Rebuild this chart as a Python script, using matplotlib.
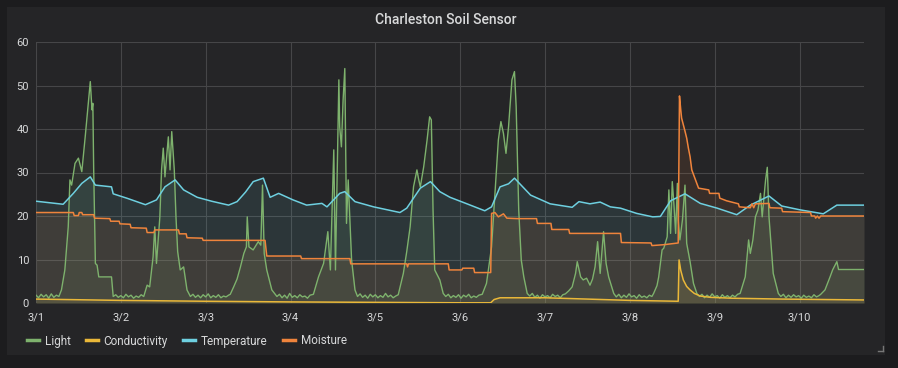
import matplotlib
matplotlib.use("Agg")
import matplotlib.pyplot as plt
from matplotlib.lines import Line2D
from matplotlib.patches import Rectangle

plt.rcParams["font.family"] = ["Roboto", "DejaVu Sans"]

# x values are days since 3/1
day_labels = ["3/1", "3/2", "3/3", "3/4", "3/5", "3/6", "3/7", "3/8", "3/9", "3/10"]
series_names = ["Light", "Conductivity", "Temperature", "Moisture"]

light_days = [
    0.00, 0.03, 0.06, 0.09, 0.12, 0.15, 0.18, 0.21, 0.24, 0.27, 0.30,
    0.34, 0.38, 0.40, 0.42, 0.46, 0.50, 0.54, 0.58, 0.62, 0.64, 0.66, 0.67, 0.68, 0.70, 0.72, 0.74, 0.89, 0.91,
    0.94, 0.97, 1.00, 1.03, 1.06, 1.09, 1.12, 1.15, 1.18, 1.21, 1.24, 1.27,
    1.31, 1.34, 1.38, 1.40, 1.42, 1.46, 1.48, 1.50, 1.52, 1.56, 1.58, 1.60, 1.63, 1.65, 1.67, 1.70, 1.74, 1.78, 1.82,
    1.85, 1.88, 1.91, 1.94, 1.97, 2.00, 2.03, 2.06, 2.09, 2.12, 2.15, 2.18, 2.21, 2.24, 2.27, 2.29,
    2.33, 2.37, 2.41, 2.45, 2.48, 2.49, 2.51, 2.56, 2.62, 2.65, 2.67, 2.69, 2.72, 2.78, 2.84,
    2.87, 2.90, 2.93, 2.96, 2.99, 3.02, 3.05, 3.08, 3.11, 3.14, 3.17, 3.20, 3.23, 3.27,
    3.33, 3.39, 3.44, 3.47, 3.51, 3.53, 3.57, 3.58, 3.60, 3.62, 3.64, 3.66, 3.68, 3.72, 3.76, 3.79,
    3.82, 3.85, 3.88, 3.91, 3.94, 3.97, 4.00, 4.03, 4.06, 4.09, 4.12, 4.15, 4.18, 4.21, 4.24, 4.27,
    4.33, 4.37, 4.41, 4.45, 4.49, 4.51, 4.53, 4.57, 4.61, 4.64, 4.66, 4.68, 4.70, 4.76, 4.80,
    4.83, 4.86, 4.89, 4.92, 4.95, 4.98, 5.01, 5.04, 5.07, 5.10, 5.13, 5.16, 5.19, 5.22, 5.26,
    5.31, 5.37, 5.41, 5.45, 5.48, 5.51, 5.54, 5.57, 5.61, 5.64, 5.66, 5.69, 5.72, 5.75, 5.79,
    5.82, 5.85, 5.88, 5.91, 5.94, 5.97, 6.00, 6.03, 6.06, 6.09, 6.12, 6.15, 6.18, 6.21, 6.24,
    6.28, 6.32, 6.36, 6.38, 6.42, 6.45, 6.49, 6.53, 6.56, 6.59, 6.62, 6.65, 6.69, 6.72, 6.75, 6.81,
    6.84, 6.87, 6.90, 6.93, 6.96, 6.99, 7.02, 7.05, 7.08, 7.11, 7.14, 7.17, 7.20, 7.23, 7.26, 7.28,
    7.32, 7.34, 7.38, 7.40, 7.44, 7.46, 7.48, 7.50, 7.52, 7.54, 7.56, 7.57, 7.59, 7.62, 7.65, 7.67, 7.71, 7.75, 7.79,
    7.82, 7.85, 7.88, 7.91, 7.94, 7.97, 8.00, 8.03, 8.06, 8.09, 8.12, 8.15, 8.18, 8.21, 8.24, 8.27, 8.30,
    8.36, 8.40, 8.42, 8.45, 8.48, 8.51, 8.54, 8.56, 8.60, 8.62, 8.64, 8.66, 8.69, 8.75,
    8.78, 8.81, 8.84, 8.87, 8.90, 8.93, 8.96, 8.99, 9.02, 9.05, 9.08, 9.11, 9.14, 9.17, 9.20, 9.23, 9.25,
    9.30, 9.36, 9.39, 9.44, 9.46, 9.76,
]
light_vals = [
    1.8, 1.2, 2.0, 1.4, 1.9, 1.1, 2.1, 1.3, 1.8, 1.5, 3.0,
    7.6, 17.5, 28.3, 27.1, 32.1, 33.3, 30.2, 38.2, 46.7, 50.9, 44.4, 45.9, 30.6, 9.1, 8.7, 6.0, 6.0, 1.5,
    1.9, 1.3, 1.7, 1.2, 2.0, 1.4, 1.8, 1.1, 1.6, 1.3, 1.9, 1.5,
    4.1, 3.7, 10.6, 17.5, 9.1, 19.8, 30.6, 35.6, 29.0, 38.2, 30.6, 39.4, 30.6, 19.8, 11.8, 7.6, 8.3, 3.0, 1.5,
    2.0, 1.3, 1.8, 1.2, 1.9, 1.4, 2.1, 1.2, 1.7, 1.3, 1.9, 1.2, 1.6, 1.4, 1.8, 2.0,
    3.7, 5.5, 8.3, 11.4, 12.9, 19.8, 12.9, 12.2, 14.1, 13.3, 27.1, 11.4, 7.6, 3.0, 1.5,
    2.0, 1.2, 1.8, 1.1, 2.2, 1.3, 1.7, 1.2, 1.9, 1.4, 1.6, 1.1, 1.8, 2.0,
    6.0, 9.1, 16.4, 7.6, 35.2, 7.6, 51.3, 40.5, 35.9, 46.7, 53.9, 18.3, 28.3, 9.9, 3.0, 1.5,
    2.1, 1.3, 1.8, 1.1, 2.0, 1.4, 1.9, 1.2, 1.7, 1.3, 2.2, 1.4, 1.8, 1.2, 1.6, 1.9,
    6.8, 11.8, 17.5, 26.7, 30.6, 28.5, 26.7, 31.3, 37.5, 42.8, 42.1, 21.4, 7.6, 5.3, 2.2,
    1.5, 2.0, 1.2, 1.7, 1.3, 1.9, 1.1, 1.8, 1.4, 2.0, 1.2, 1.6, 1.3, 1.8, 2.0,
    4.5, 12.9, 25.2, 37.5, 41.7, 39.0, 34.4, 40.5, 51.3, 53.2, 45.1, 21.4, 9.9, 6.0, 2.2,
    1.6, 2.2, 1.3, 1.8, 1.1, 1.9, 1.4, 1.7, 1.2, 2.0, 1.5, 1.8, 1.2, 1.9, 2.1,
    2.8, 3.7, 6.8, 9.5, 6.0, 5.3, 5.7, 4.1, 5.5, 8.3, 14.1, 6.8, 16.4, 9.1, 6.0, 2.2,
    1.4, 2.0, 1.2, 1.8, 1.3, 2.1, 1.4, 1.7, 1.1, 1.9, 1.3, 1.6, 1.2, 1.8, 1.5, 2.2,
    4.0, 6.0, 12.2, 12.6, 15.2, 26.0, 16.0, 27.9, 22.5, 16.0, 27.5, 19.1, 14.5, 19.1, 27.1, 13.7, 9.5, 4.5, 2.2,
    1.5, 2.0, 1.2, 1.8, 1.3, 2.1, 1.4, 1.7, 1.1, 1.9, 1.3, 1.7, 1.2, 1.8, 1.4, 2.0, 2.2,
    6.0, 14.5, 11.4, 14.5, 19.8, 21.4, 25.2, 19.8, 28.3, 31.2, 19.8, 14.5, 6.8, 2.2,
    1.5, 2.0, 1.2, 1.8, 1.3, 1.9, 1.4, 1.7, 1.1, 1.8, 1.3, 1.6, 1.2, 1.9, 1.4, 1.7, 2.0,
    3.0, 6.0, 7.6, 9.5, 7.7, 7.7,
]

cond_days = [0.0, 1.0, 2.0, 3.0, 4.0, 5.0, 5.36, 5.40, 5.47, 6.0, 6.5, 7.0, 7.57,
             7.58, 7.60, 7.63, 7.67, 7.71, 7.76, 7.83, 7.95, 8.2, 8.8, 9.76]
cond_vals = [0.9, 0.6, 0.4, 0.25, 0.15, 0.05, 0.05, 0.8, 1.2, 1.2, 0.9, 0.6, 0.4,
             9.9, 7.5, 5.3, 3.8, 3.0, 2.2, 1.6, 1.3, 1.1, 0.9, 0.7]

temp_days = [0.00, 0.32, 0.44, 0.54, 0.64, 0.70, 0.89, 0.91, 1.07, 1.29, 1.42, 1.52, 1.64, 1.74,
             1.90, 2.07, 2.27, 2.37, 2.47, 2.56, 2.68, 2.76, 2.86, 3.03, 3.19, 3.37, 3.43, 3.58,
             3.64, 3.76, 3.98, 4.29, 4.37, 4.53, 4.65, 4.76, 4.88, 5.08, 5.29, 5.37, 5.47, 5.57,
             5.64, 5.83, 6.06, 6.32, 6.40, 6.53, 6.65, 6.77, 6.89, 7.08, 7.27, 7.36, 7.48, 7.65,
             7.83, 8.03, 8.26, 8.42, 8.64, 8.79, 9.01, 9.28, 9.44, 9.76]
temp_vals = [23.4, 22.7, 25.2, 27.5, 29.0, 27.1, 26.7, 25.1, 24.1, 22.6, 23.7, 26.7, 28.3, 26.0,
             24.3, 23.4, 22.5, 23.3, 25.5, 27.9, 28.7, 24.3, 25.2, 23.7, 22.5, 22.9, 22.1, 25.2,
             25.6, 23.3, 22.1, 20.8, 21.8, 26.4, 27.9, 25.6, 24.3, 22.8, 21.2, 22.1, 26.7, 27.4,
             28.7, 24.8, 22.8, 22.0, 23.3, 22.8, 23.2, 22.1, 21.8, 20.6, 19.8, 19.9, 23.5, 25.1,
             22.9, 21.8, 20.3, 22.5, 24.6, 22.3, 21.4, 20.5, 22.5, 22.5]

moist_days = [0.00, 0.44, 0.45, 0.50, 0.51, 0.54, 0.55, 0.68, 0.69, 0.87, 0.88, 0.98, 0.99, 1.11,
              1.12, 1.30, 1.31, 1.39, 1.40, 1.68, 1.69, 1.77, 1.78, 1.96, 1.97, 2.70, 2.72, 3.12,
              3.13, 3.70, 3.71, 4.37, 4.38, 4.39, 4.86, 4.87, 5.02, 5.03, 5.16, 5.17, 5.36, 5.37,
              5.41, 5.45, 5.51, 5.55, 5.67, 5.90, 5.91, 6.07, 6.08, 6.28, 6.29, 6.89, 6.90, 7.25,
              7.26, 7.40, 7.57, 7.585, 7.60, 7.61, 7.65, 7.67, 7.69, 7.71, 7.73, 7.81, 7.93, 7.94,
              8.05, 8.06, 8.14, 8.28, 8.29, 8.42, 8.44, 8.46, 8.48, 8.50, 8.64, 8.65, 8.79, 8.80,
              9.13, 9.14, 9.18, 9.19, 9.21, 9.23, 9.25, 9.76]
moist_vals = [20.8, 20.8, 20.1, 20.1, 20.8, 20.8, 20.3, 20.3, 19.5, 19.4, 18.8, 18.8, 18.2, 18.1,
              17.3, 17.2, 16.2, 16.2, 16.8, 16.8, 15.9, 15.9, 15.0, 14.9, 14.4, 14.4, 10.8, 10.8,
              10.2, 10.2, 9.0, 9.0, 8.3, 9.0, 9.0, 7.6, 7.6, 8.0, 8.0, 7.0, 7.0, 20.6,
              20.8, 19.8, 20.5, 19.5, 19.4, 19.4, 18.3, 18.3, 16.9, 16.9, 16.0, 16.0, 13.9, 13.8,
              13.2, 13.4, 13.8, 47.6, 44.4, 42.5, 39.5, 37.9, 35.6, 33.6, 30.6, 26.4, 26.0, 25.2,
              25.2, 24.1, 23.5, 22.8, 22.1, 21.9, 22.8, 21.9, 22.8, 22.8, 22.9, 21.9, 21.8, 21.0,
              20.8, 20.0, 20.0, 19.5, 20.0, 19.5, 20.0, 20.0]

colors = ["#7eb26d", "#eab839", "#6ed0e0", "#ef843c"]
outer_bg = "#1c1c1e"
panel_bg = "#252527"
text_col = "#d8d9da"
grid_col = "#464648"

fig = plt.figure(figsize=(8.98, 3.68), dpi=100, facecolor=outer_bg)
fig.add_artist(Rectangle((7 / 898, 1 - 355 / 368), 878 / 898, 348 / 368,
                         transform=fig.transFigure, facecolor=panel_bg,
                         edgecolor="none", zorder=0))

ax = fig.add_axes([36 / 898, 65 / 368, 828 / 898, 261 / 368])
ax.set_facecolor("none")

all_series = [
    (light_days, light_vals, 1.0),
    (cond_days, cond_vals, 1.1),
    (temp_days, temp_vals, 1.1),
    (moist_days, moist_vals, 1.1),
]
for (xs, ys, lw), c in zip(all_series, colors):
    ax.fill_between(xs, 0, ys, color=c, alpha=0.1, linewidth=0)
    ax.plot(xs, ys, color=c, linewidth=lw)

ax.set_xlim(0, 9.76)
ax.set_ylim(0, 60)
ax.set_xticks(range(len(day_labels)))
ax.set_xticklabels(day_labels)
ax.set_yticks(range(0, 61, 10))
ax.grid(True, color=grid_col, linewidth=0.8)
ax.set_axisbelow(True)
for s in ax.spines.values():
    s.set_visible(False)
ax.tick_params(length=0, colors=text_col, labelsize=8)
ax.tick_params(axis="y", pad=5)
ax.tick_params(axis="x", pad=7)

fig.text(446 / 898, 1 - 20 / 368, "Charleston Soil Sensor", ha="center", va="center",
         color=text_col, fontsize=10, fontweight="medium")

handles = [Line2D([], [], color=c, linewidth=2.5) for c in colors]
fig.legend(handles, series_names, loc="center left", bbox_to_anchor=(27 / 898, 1 - 341 / 368),
           ncol=4, frameon=False, fontsize=8.5, labelcolor=text_col, handlelength=1.0,
           handletextpad=0.5, columnspacing=1.3, borderpad=0, borderaxespad=0)

# little resize corner mark
fig.add_artist(Line2D([878 / 898, 883 / 898], [1 - 351 / 368, 1 - 351 / 368],
                      transform=fig.transFigure, color="#777777", linewidth=1))
fig.add_artist(Line2D([883 / 898, 883 / 898], [1 - 351 / 368, 1 - 346 / 368],
                      transform=fig.transFigure, color="#777777", linewidth=1))

fig.savefig("out.png", dpi=100, facecolor=outer_bg)
